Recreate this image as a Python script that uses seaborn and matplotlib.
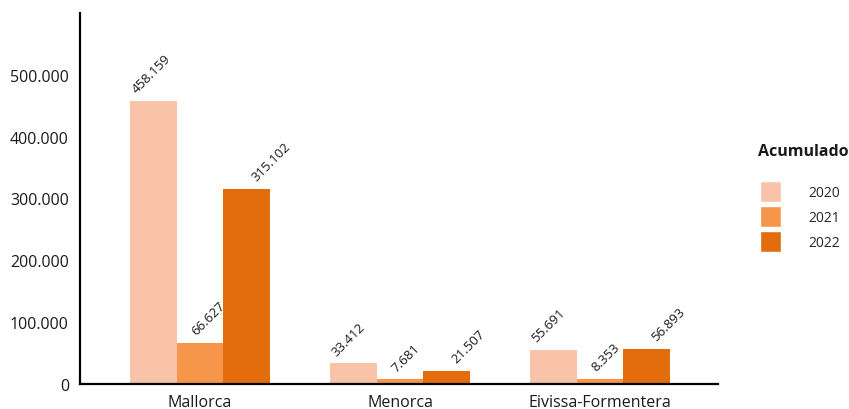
import matplotlib
matplotlib.use("Agg")
import matplotlib.pyplot as plt
import seaborn as sns
import pandas as pd
from matplotlib.patches import Patch
from matplotlib.ticker import FuncFormatter

islands = ["Mallorca", "Menorca", "Eivissa-Formentera"]
years = ["2020", "2021", "2022"]
v2020 = [458159, 33412, 55691]
v2021 = [66627, 7681, 8353]
v2022 = [315102, 21507, 56893]
colors = ["#f9c3a9", "#f5964a", "#e36c0d"]
ytick_vals = [0, 100000, 200000, 300000, 400000, 500000]

rows = []
for yr, vals in zip(years, [v2020, v2021, v2022]):
    for isl, v in zip(islands, vals):
        rows.append({"isla": isl, "year": yr, "valor": v})
df = pd.DataFrame(rows)

sns.set_style("white")
plt.rcParams["font.family"] = ["Open Sans", "DejaVu Sans"]

def fmt(v):
    return f"{int(v):,}".replace(",", ".")

fig = plt.figure(figsize=(8.49, 4.10), dpi=100)
ax = fig.add_axes([80/849, 25/410, (718-80)/849, (385-14)/410])
sns.barplot(data=df, x="isla", y="valor", hue="year", order=islands, hue_order=years,
            palette=colors, saturation=1, width=0.7, linewidth=0, ax=ax, legend=False)

for j, (yr, vals) in enumerate(zip(years, [v2020, v2021, v2022])):
    for i, v in enumerate(vals):
        ax.annotate(fmt(v), xy=(i + (j - 1) * 0.3, v), xytext=(-1, 4), textcoords="offset points",
                    ha="left", va="bottom", rotation=45, rotation_mode="anchor",
                    fontsize=9.5, color="#1a1a1a")

ax.set_xlim(-0.6, 2.59)
ax.set_ylim(0, 600000)
ax.set_yticks(ytick_vals)
ax.yaxis.set_major_formatter(FuncFormatter(lambda v, p: fmt(v)))
ax.set_xlabel("")
ax.set_ylabel("")
for s in ["top", "right"]:
    ax.spines[s].set_visible(False)
for s in ["left", "bottom"]:
    ax.spines[s].set_color("black")
    ax.spines[s].set_linewidth(1.6)
ax.tick_params(axis="both", which="major", length=5, width=1.2, color="#333333",
               labelsize=11.5, labelcolor="#1a1a1a", direction="out")
ax.tick_params(axis="x", pad=2.5)
ax.tick_params(axis="y", pad=3)
ax.grid(False)

fig.text(758/849, 1 - 152/410, "Acumulado", fontsize=11.5, fontweight="bold",
         ha="left", va="center", color="#1a1a1a")
handles = [Patch(facecolor=c, edgecolor="white", linewidth=1) for c in colors]
fig.legend(handles, years, loc="upper left", bbox_to_anchor=(760/849, 1 - 182/410),
           frameon=False, borderpad=0, borderaxespad=0, fontsize=10,
           handlelength=1.5, handleheight=2.0, labelspacing=0.25, handletextpad=1.95)

fig.savefig("out.png", dpi=100)
